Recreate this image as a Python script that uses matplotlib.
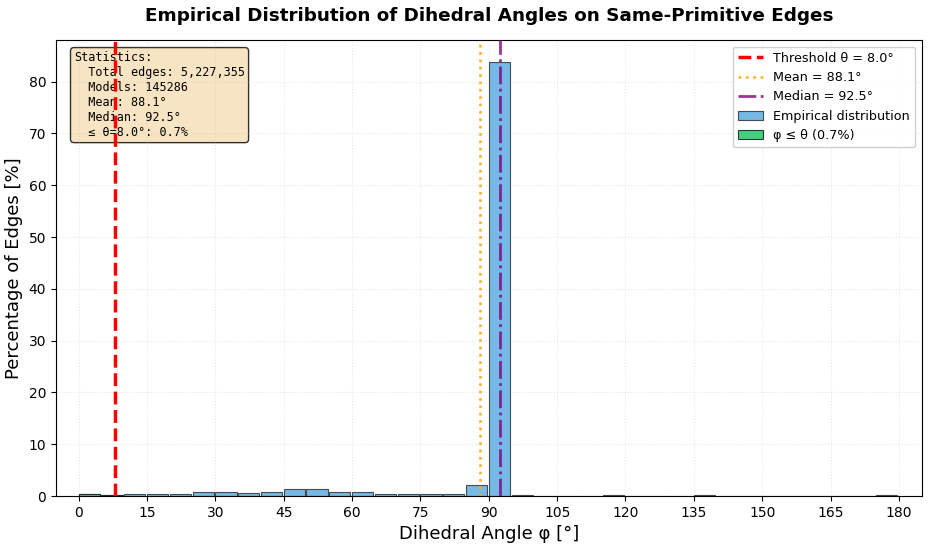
import matplotlib.pyplot as plt
import numpy as np

# histogram of dihedral angles, 5 degree bins from 0 to 180
bin_edges = np.arange(0, 185, 5)
percent = [0.45, 0.25, 0.4, 0.4, 0.5, 0.7, 0.85, 0.65, 0.7, 1.35,
           1.3, 0.7, 0.7, 0.4, 0.45, 0.5, 0.4, 2.05, 83.8, 0.13,
           0.1, 0.1, 0.1, 0.25, 0.1, 0.05, 0.1, 0.3, 0.1, 0.1,
           0.05, 0.05, 0.02, 0.02, 0.02, 0.25]
# part of the histogram below the threshold
below_percent = [0.45, 0.25]

threshold = 8.0
mean_val = 88.1
median_val = 92.5
total_edges = 5227355
n_models = 145286
frac_below = 0.7

fig, ax = plt.subplots(figsize=(9.31, 5.5), dpi=100)
fig.subplots_adjust(left=0.060, right=0.990, top=0.927, bottom=0.098)

left = bin_edges[:-1]
ax.bar(left, percent, width=5 * 0.93, align='edge', color='#5DADE2',
       alpha=0.85, edgecolor='#333333', linewidth=0.8,
       label='Empirical distribution', zorder=2)
ax.bar(left[:len(below_percent)], below_percent, width=5 * 0.93, align='edge',
       color='#2ECC71', alpha=0.9, edgecolor='#222222', linewidth=0.8,
       label=f'φ ≤ θ ({frac_below:.1f}%)', zorder=3)

ax.axvline(threshold, color='red', linestyle='--', linewidth=2.5,
           label=f'Threshold θ = {threshold:.1f}°', zorder=4)
ax.axvline(mean_val, color='orange', linestyle=':', linewidth=2,
           alpha=0.8, label=f'Mean = {mean_val:.1f}°', zorder=4)
ax.axvline(median_val, color='purple', linestyle='-.', linewidth=2,
           alpha=0.8, label=f'Median = {median_val:.1f}°', zorder=4)

ax.set_xlim(-5, 185)
ax.set_xticks(np.arange(0, 181, 15))
ax.set_xlabel('Dihedral Angle φ [°]', fontsize=13)
ax.set_ylabel('Percentage of Edges [%]', fontsize=13)
ax.set_title('Empirical Distribution of Dihedral Angles on Same-Primitive Edges',
             fontsize=13.2, fontweight='bold', pad=14)
ax.grid(True, alpha=0.3, linestyle=':', zorder=0)

ax.legend(loc='upper right', fontsize=9.2, framealpha=0.9)

stats = (f"Statistics:\n"
         f"  Total edges: {total_edges:,}\n"
         f"  Models: {n_models}\n"
         f"  Mean: {mean_val:.1f}°\n"
         f"  Median: {median_val:.1f}°\n"
         f"  ≤ θ={threshold:.1f}°: {frac_below:.1f}%")
ax.text(0.021, 0.976, stats, transform=ax.transAxes, fontsize=8.5,
        family='monospace', va='top',
        bbox=dict(boxstyle='round', facecolor='wheat', alpha=0.8), zorder=1)

plt.savefig('out.png')
